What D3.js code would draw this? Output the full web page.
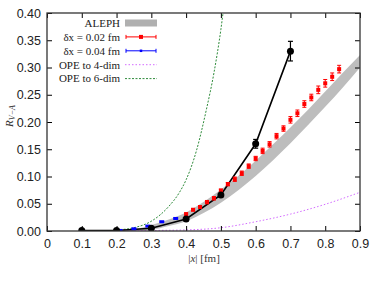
<!DOCTYPE html>
<html>
<head>
<meta charset="utf-8">
<script src="https://cdn.jsdelivr.net/npm/d3@7"></script>
<style>
body{margin:0;background:#fff}
svg{display:block}
</style>
</head>
<body>
<script>
// ALEPH band (lower / upper edge)
var alephX=[0.2,0.25,0.3,0.35,0.4,0.45,0.5,0.55,0.6,0.65,0.7,0.75,0.8,0.85,0.9]
var alephLo=[0,0,0.002,0.009,0.018,0.033,0.052,0.075,0.101,0.13,0.161,0.194,0.228,0.263,0.3]
var alephHi=[0,0.003,0.011,0.021,0.034,0.053,0.076,0.101,0.129,0.159,0.19,0.222,0.256,0.29,0.323]

// dx = 0.02 fm
var redX=[0.40,0.42,0.44,0.46,0.48,0.50,0.52,0.54,0.56,0.58,0.60,0.62,0.64,0.66,0.68,0.70,0.72,0.74,0.76,0.78,0.80,0.82,0.84]
var redY=[0.031,0.039,0.044,0.053,0.060,0.074,0.086,0.095,0.106,0.119,0.133,0.147,0.159,0.174,0.188,0.204,0.216,0.233,0.245,0.259,0.271,0.283,0.297]
var redErr=[0.002,0.002,0.002,0.003,0.003,0.003,0.003,0.004,0.004,0.004,0.004,0.005,0.005,0.005,0.005,0.006,0.006,0.006,0.006,0.007,0.007,0.007,0.007]

// dx = 0.04 fm
var blueX=[0.21,0.25,0.29,0.33,0.37]
var blueY=[0.001,0.004,0.009,0.017,0.023]

// black points
var blackX=[0.1,0.2,0.3,0.4,0.5,0.6,0.7]
var blackY=[0.001,0.001,0.005,0.022,0.066,0.16,0.33]
var blackErr=[0,0,0.001,0.002,0.003,0.008,0.018]

// OPE curves
var ope4X=[0.2,0.3,0.4,0.5,0.6,0.7,0.8,0.9]
var ope4Y=[0,0.001,0.002,0.006,0.017,0.031,0.049,0.071]
var ope6X=[0.2,0.25,0.3,0.35,0.38,0.4,0.43,0.458,0.48,0.5,0.51]
var ope6Y=[0.002,0.006,0.018,0.045,0.07,0.094,0.148,0.222,0.29,0.37,0.42]

var xTicks=[0,0.1,0.2,0.3,0.4,0.5,0.6,0.7,0.8,0.9]
var yTicks=[0,0.05,0.1,0.15,0.2,0.25,0.3,0.35,0.4]

var screen={width:382,height:281}
var margin={top:13,right:22,bottom:50,left:47}
var w=screen.width-margin.left-margin.right
var h=screen.height-margin.top-margin.bottom

var xScale=d3.scaleLinear().domain([0,0.9]).range([0,w])
var yScale=d3.scaleLinear().domain([0,0.4]).range([h,0])

var svg=d3.select("body").append("svg")
  .attr("width",screen.width)
  .attr("height",screen.height)

svg.append("defs").append("clipPath").attr("id","clip")
  .append("rect").attr("width",w).attr("height",h)

var plot=svg.append("g")
  .attr("transform","translate("+margin.left+","+margin.top+")")

var inner=plot.append("g").attr("clip-path","url(#clip)")

// band
var band=alephX.map(function(x,i){return {x:x,lo:alephLo[i],hi:alephHi[i]}})
inner.append("path")
  .datum(band)
  .attr("fill","#bdbdbd")
  .attr("d",d3.area().curve(d3.curveMonotoneX)
    .x(function(d){return xScale(d.x)})
    .y0(function(d){return yScale(d.lo)})
    .y1(function(d){return yScale(d.hi)}))

// OPE lines
var ope4=ope4X.map(function(x,i){return [x,ope4Y[i]]})
var ope6=ope6X.map(function(x,i){return [x,ope6Y[i]]})
var lineGen=d3.line().curve(d3.curveMonotoneX)
  .x(function(d){return xScale(d[0])}).y(function(d){return yScale(d[1])})
inner.append("path").datum(ope4).attr("d",lineGen)
  .attr("fill","none").attr("stroke","#d36bff").attr("stroke-width",1).attr("stroke-dasharray","1.5,2")
inner.append("path").datum(ope6).attr("d",lineGen)
  .attr("fill","none").attr("stroke","#2e8b3a").attr("stroke-width",1).attr("stroke-dasharray","2,1.5")

// black line + points
var black=blackX.map(function(x,i){return {x:x,y:blackY[i],e:blackErr[i]}})
inner.append("path").datum(black.map(function(d){return [d.x,d.y]}))
  .attr("d",d3.line().x(function(d){return xScale(d[0])}).y(function(d){return yScale(d[1])}))
  .attr("fill","none").attr("stroke","#000").attr("stroke-width",1.6)

// red points
var red=redX.map(function(x,i){return {x:x,y:redY[i],e:redErr[i]}})
var rg=inner.selectAll(".red").data(red).enter().append("g").attr("class","red")
rg.append("line")
  .attr("x1",function(d){return xScale(d.x)}).attr("x2",function(d){return xScale(d.x)})
  .attr("y1",function(d){return yScale(d.y-d.e)}).attr("y2",function(d){return yScale(d.y+d.e)})
  .attr("stroke","#f00").attr("stroke-width",1)
rg.selectAll(".cap").data(function(d){return [[d.x,d.y-d.e],[d.x,d.y+d.e]]}).enter().append("line")
  .attr("x1",function(d){return xScale(d[0])-2}).attr("x2",function(d){return xScale(d[0])+2})
  .attr("y1",function(d){return yScale(d[1])}).attr("y2",function(d){return yScale(d[1])})
  .attr("stroke","#f00").attr("stroke-width",1)
rg.append("rect")
  .attr("x",function(d){return xScale(d.x)-2}).attr("y",function(d){return yScale(d.y)-2})
  .attr("width",4).attr("height",4).attr("fill","#f00")

// blue points
inner.selectAll(".blue").data(blueX.map(function(x,i){return [x,blueY[i]]})).enter().append("rect")
  .attr("class","blue")
  .attr("x",function(d){return xScale(d[0])-2.5}).attr("y",function(d){return yScale(d[1])-1.5})
  .attr("width",5).attr("height",3).attr("fill","#00f")

// black error bars + circles
var bg=inner.selectAll(".blk").data(black).enter().append("g").attr("class","blk")
bg.filter(function(d){return d.e>0.004}).each(function(d){
  var g=d3.select(this)
  var x=xScale(d.x)
  g.append("line").attr("x1",x).attr("x2",x).attr("y1",yScale(d.y-d.e)).attr("y2",yScale(d.y+d.e))
    .attr("stroke","#000").attr("stroke-width",1.2)
  g.append("line").attr("x1",x-2.5).attr("x2",x+2.5).attr("y1",yScale(d.y-d.e)).attr("y2",yScale(d.y-d.e))
    .attr("stroke","#000").attr("stroke-width",1.2)
  g.append("line").attr("x1",x-2.5).attr("x2",x+2.5).attr("y1",yScale(d.y+d.e)).attr("y2",yScale(d.y+d.e))
    .attr("stroke","#000").attr("stroke-width",1.2)
})
bg.append("circle")
  .attr("cx",function(d){return xScale(d.x)}).attr("cy",function(d){return yScale(d.y)})
  .attr("r",3.5).attr("fill","#000")

// axes (ticks inward on all sides)
var axStyle=function(g){
  g.select(".domain").remove()
  g.selectAll(".tick line").attr("stroke","#000")
  g.selectAll("text").attr("font-family","Liberation Sans, Arial, sans-serif").attr("font-size","12.5px").attr("fill","#222")
}
plot.append("g").attr("transform","translate(0,"+h+")")
  .call(d3.axisBottom(xScale).tickValues(xTicks).tickSize(-5).tickPadding(8)
    .tickFormat(function(d){return d===0?"0":d3.format(".1f")(d)}))
  .call(axStyle)
plot.append("g")
  .call(d3.axisTop(xScale).tickValues(xTicks).tickSize(-5).tickFormat(""))
  .call(axStyle)
plot.append("g")
  .call(d3.axisLeft(yScale).tickValues(yTicks).tickSize(-5).tickPadding(6).tickFormat(d3.format(".2f")))
  .call(axStyle)
plot.append("g").attr("transform","translate("+w+",0)")
  .call(d3.axisRight(yScale).tickValues(yTicks).tickSize(-5).tickFormat(""))
  .call(axStyle)

plot.append("rect").attr("width",w).attr("height",h)
  .attr("fill","none").attr("stroke","#333").attr("stroke-width",1.3)

// axis titles
var xt=svg.append("text").attr("x",204).attr("y",262).attr("text-anchor","middle")
  .attr("font-family","Liberation Serif, Times New Roman, serif").attr("font-size","11px").attr("fill","#333")
xt.append("tspan").text("|")
xt.append("tspan").attr("font-style","italic").text("x")
xt.append("tspan").text("| [fm]")

var yt=svg.append("text").attr("transform","translate(13,116) rotate(-90)").attr("text-anchor","middle")
  .attr("font-family","Liberation Serif, Times New Roman, serif").attr("font-size","11px").attr("fill","#333")
yt.append("tspan").attr("font-style","italic").text("R")
yt.append("tspan").attr("font-size","8px").attr("font-style","italic").attr("dy",2).text("V\u2212A")

// legend
var legendLabels=["ALEPH","\u03b4x = 0.02 fm","\u03b4x = 0.04 fm","OPE to 4-dim","OPE to 6-dim"]
var lg=svg.append("g").attr("transform","translate(0,23)")
var rows=lg.selectAll(".lrow").data(legendLabels).enter().append("g")
  .attr("transform",function(d,i){return "translate(0,"+(i*13.9)+")"})
rows.append("text").attr("x",120).attr("y",3.8).attr("text-anchor","end")
  .attr("font-family","Liberation Serif, Times New Roman, serif").attr("font-size","11px").attr("fill","#222")
  .text(function(d){return d})
rows.each(function(d,i){
  var g=d3.select(this)
  if(i===0){
    g.append("rect").attr("x",125).attr("y",-3.5).attr("width",32).attr("height",7).attr("fill","#b0b0b0")
  } else if(i===1||i===2){
    var c=i===1?"#f00":"#00f"
    g.append("line").attr("x1",126).attr("x2",156).attr("y1",0).attr("y2",0).attr("stroke",c)
    g.append("line").attr("x1",126).attr("x2",126).attr("y1",-2).attr("y2",2).attr("stroke",c)
    g.append("line").attr("x1",156).attr("x2",156).attr("y1",-2).attr("y2",2).attr("stroke",c)
    var s=i===1?4:2.5
    g.append("rect").attr("x",141-s/2).attr("y",-s/2).attr("width",s).attr("height",s).attr("fill",c)
  } else {
    g.append("line").attr("x1",125).attr("x2",157).attr("y1",0).attr("y2",0)
      .attr("stroke",i===3?"#d36bff":"#2e8b3a").attr("stroke-dasharray",i===3?"1.5,2":"2,1.5")
  }
})
</script>
</body>
</html>
